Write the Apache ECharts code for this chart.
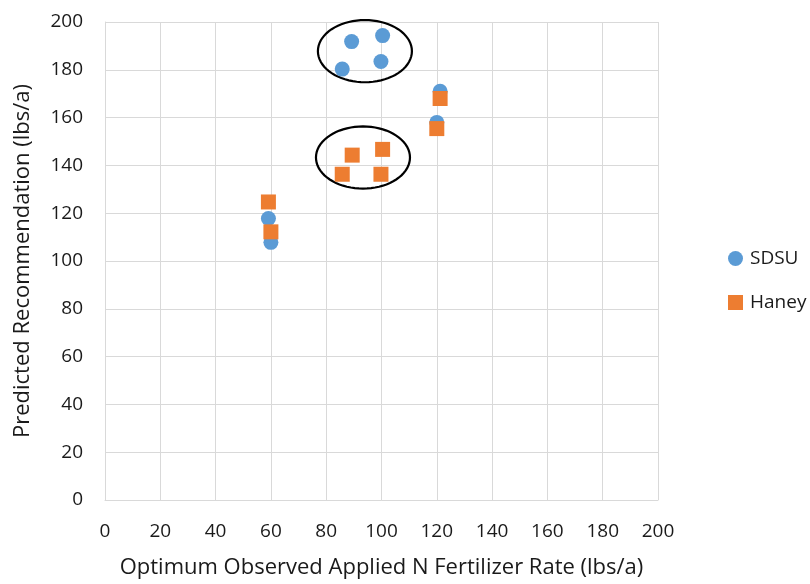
<!DOCTYPE html>
<html><head><meta charset="utf-8">
<script src="https://cdn.jsdelivr.net/npm/echarts@6/dist/echarts.min.js"></script>
<style>html,body{margin:0;padding:0;background:#fff}#c{width:810px;height:584px}</style>
</head><body><div id="c"></div>
<script>
const seriesNames = ['SDSU', 'Haney'];
const sdsuX = [59.1, 60.0, 85.8, 89.2, 99.8, 100.4, 120.0, 121.2];
const sdsuY = [117.8, 107.8, 180.3, 191.8, 183.5, 194.3, 158.0, 171.0];
const haneyX = [59.1, 60.0, 85.8, 89.4, 99.8, 100.4, 120.0, 121.2];
const haneyY = [124.7, 112.2, 136.3, 144.3, 136.3, 146.7, 155.4, 168.0];
const ellipseCenters = [[94.0, 187.8], [93.3, 143.3]];
const ellipseRadii = [17, 13];
const xTitle = 'Optimum Observed Applied N Fertilizer Rate (lbs/a)';
const yTitle = 'Predicted Recommendation (lbs/a)';

const font = '"Open Sans", sans-serif';
const chart = echarts.init(document.getElementById('c'), null, {renderer: 'canvas'});
chart.setOption({
  animation: false,
  grid: {left: 105, top: 22, width: 553, height: 480, containLabel: false},
  xAxis: {
    type: 'value', min: 0, max: 200, interval: 20,
    name: xTitle, nameLocation: 'middle', nameGap: 57,
    nameTextStyle: {fontFamily: font, fontSize: 22, color: '#1a1a1a'},
    axisLine: {show: true, lineStyle: {color: '#d9d9d9'}},
    axisTick: {show: false},
    axisLabel: {fontFamily: font, fontSize: 19, color: '#1a1a1a', margin: 22},
    splitLine: {show: true, lineStyle: {color: '#d9d9d9', width: 1}}
  },
  yAxis: {
    type: 'value', min: 0, max: 200, interval: 20,
    name: yTitle, nameLocation: 'middle', nameGap: 71, nameRotate: 90,
    nameTextStyle: {fontFamily: font, fontSize: 22, color: '#1a1a1a'},
    axisLine: {show: true, lineStyle: {color: '#d9d9d9'}},
    axisTick: {show: false},
    axisLabel: {fontFamily: font, fontSize: 19, color: '#1a1a1a', margin: 22},
    splitLine: {show: true, lineStyle: {color: '#d9d9d9', width: 1}}
  },
  legend: {
    orient: 'vertical', left: 723, top: 244, itemGap: 25,
    itemWidth: 15, itemHeight: 15,
    textStyle: {fontFamily: font, fontSize: 19, color: '#1a1a1a', padding: [0,0,0,2]},
    data: [{name: 'SDSU', icon: 'circle'}, {name: 'Haney', icon: 'rect'}]
  },
  series: [
    {
      name: 'SDSU', type: 'scatter', symbol: 'circle', symbolSize: 15,
      itemStyle: {color: '#5B9BD5', opacity: 1},
      data: sdsuX.map((x, i) => [x, sdsuY[i]])
    },
    {
      name: 'Haney', type: 'scatter', symbol: 'rect', symbolSize: 15,
      itemStyle: {color: '#ED7D31', opacity: 1},
      data: haneyX.map((x, i) => [x, haneyY[i]])
    },
    {
      name: 'ellipses', type: 'custom', silent: true, z: 1,
      data: ellipseCenters,
      renderItem: function (params, api) {
        const c = api.coord([api.value(0), api.value(1)]);
        const s = api.size([ellipseRadii[0], ellipseRadii[1]]);
        const pts = [];
        for (let k = 0; k <= 72; k++) {
          const t = k / 72 * Math.PI * 2;
          pts.push([c[0] + s[0] * Math.cos(t), c[1] + s[1] * Math.sin(t)]);
        }
        return {type: 'polygon', shape: {points: pts, smooth: 0},
          style: {fill: 'none', stroke: '#000', lineWidth: 2.2}};
      }
    }
  ]
});
</script></body></html>
